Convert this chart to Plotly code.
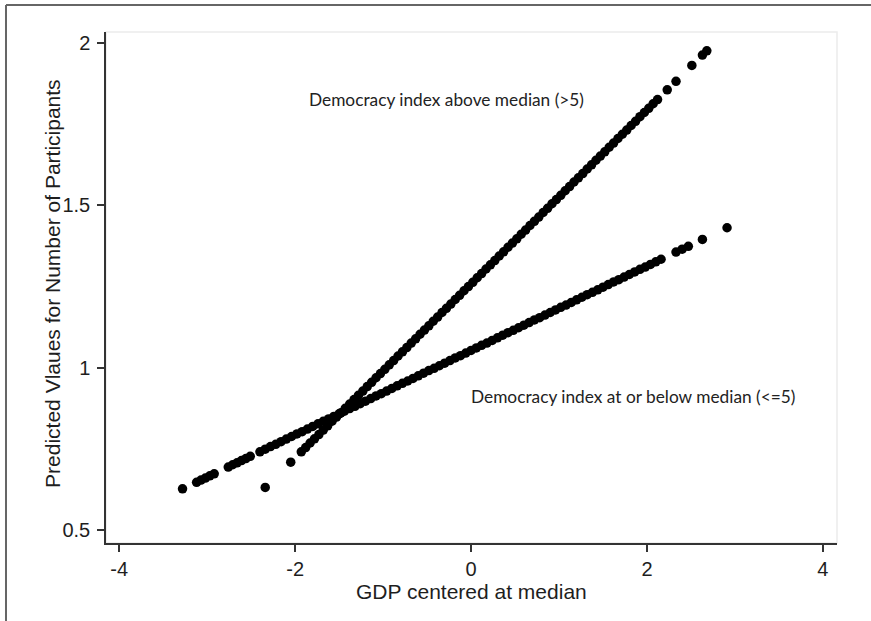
import plotly.graph_objects as go

# ---- Data ----
# Democracy index above median (>5)
above_x = [-2.34, -2.05,
           -1.93, -1.88, -1.83, -1.78, -1.73, -1.68, -1.63, -1.58, -1.53, -1.48,
           -1.43, -1.38, -1.33, -1.28, -1.23, -1.18, -1.13, -1.08, -1.03, -0.98,
           -0.93, -0.88, -0.83, -0.78, -0.73, -0.68, -0.63, -0.58, -0.53, -0.48,
           -0.43, -0.38, -0.33, -0.28, -0.23, -0.18, -0.13, -0.08, -0.03, 0.02,
           0.07, 0.12, 0.17, 0.22, 0.27, 0.32, 0.37, 0.42, 0.47, 0.52,
           0.57, 0.62, 0.67, 0.72, 0.77, 0.82, 0.87, 0.92, 0.97, 1.02,
           1.07, 1.12, 1.17, 1.22, 1.27, 1.32, 1.37, 1.42, 1.47, 1.52,
           1.57, 1.62, 1.67, 1.72, 1.77, 1.82, 1.87, 1.92, 1.97, 2.02,
           2.07, 2.12,
           2.23, 2.33, 2.51, 2.63, 2.68]
above_y = [0.631, 0.709,
           0.741, 0.754, 0.768, 0.781, 0.794, 0.808, 0.821, 0.835, 0.848, 0.861,
           0.875, 0.888, 0.902, 0.915, 0.928, 0.942, 0.955, 0.969, 0.982, 0.995,
           1.009, 1.022, 1.036, 1.049, 1.062, 1.076, 1.089, 1.103, 1.116, 1.129,
           1.143, 1.156, 1.170, 1.183, 1.196, 1.210, 1.223, 1.237, 1.250, 1.263,
           1.277, 1.290, 1.304, 1.317, 1.330, 1.344, 1.357, 1.371, 1.384, 1.397,
           1.411, 1.424, 1.438, 1.451, 1.464, 1.478, 1.491, 1.505, 1.518, 1.531,
           1.545, 1.558, 1.572, 1.585, 1.598, 1.612, 1.625, 1.639, 1.652, 1.665,
           1.679, 1.692, 1.706, 1.719, 1.732, 1.746, 1.759, 1.773, 1.786, 1.799,
           1.813, 1.826,
           1.856, 1.882, 1.931, 1.963, 1.976]

# Democracy index at or below median (<=5)
below_x = [-3.28,
           -3.12, -3.07, -3.02, -2.97, -2.92,
           -2.76, -2.71, -2.66, -2.61, -2.56, -2.51,
           -2.40, -2.34, -2.28, -2.22, -2.16, -2.10, -2.04, -1.98, -1.92, -1.86,
           -1.80, -1.74, -1.68, -1.62, -1.56, -1.50, -1.44, -1.38, -1.32, -1.26,
           -1.20, -1.14, -1.08, -1.02, -0.96, -0.90, -0.84, -0.78, -0.72, -0.66,
           -0.60, -0.54, -0.48, -0.42, -0.36, -0.30, -0.24, -0.18, -0.12, -0.06,
           0.00, 0.06, 0.12, 0.18, 0.24, 0.30, 0.36, 0.42, 0.48, 0.54,
           0.60, 0.66, 0.72, 0.78, 0.84, 0.90, 0.96, 1.02, 1.08, 1.14,
           1.20, 1.26, 1.32, 1.38, 1.44, 1.50, 1.56, 1.62, 1.68, 1.74,
           1.80, 1.86, 1.92, 1.98, 2.04, 2.10, 2.16,
           2.33, 2.40, 2.47, 2.63, 2.91]
below_y = [0.627,
           0.647, 0.654, 0.660, 0.667, 0.673,
           0.694, 0.701, 0.707, 0.714, 0.720, 0.727,
           0.741, 0.749, 0.757, 0.764, 0.772, 0.780, 0.788, 0.796, 0.803, 0.811,
           0.819, 0.827, 0.835, 0.842, 0.850, 0.858, 0.866, 0.874, 0.881, 0.889,
           0.897, 0.905, 0.913, 0.920, 0.928, 0.936, 0.944, 0.952, 0.959, 0.967,
           0.975, 0.983, 0.991, 0.998, 1.006, 1.014, 1.022, 1.030, 1.037, 1.045,
           1.053, 1.061, 1.069, 1.076, 1.084, 1.092, 1.100, 1.108, 1.115, 1.123,
           1.131, 1.139, 1.147, 1.154, 1.162, 1.170, 1.178, 1.186, 1.193, 1.201,
           1.209, 1.217, 1.225, 1.232, 1.240, 1.248, 1.256, 1.264, 1.271, 1.279,
           1.287, 1.295, 1.303, 1.310, 1.318, 1.326, 1.334,
           1.356, 1.365, 1.374, 1.395, 1.431]

x_ticks = [-4, -2, 0, 2, 4]
y_ticks = [0.5, 1, 1.5, 2]
y_tick_text = ["0.5", "1", "1.5", "2"]
x_title = "GDP centered at median"
y_title = "Predicted Vlaues for Number of Participants"
label_above = "Democracy index above median (>5)"
label_below = "Democracy index at or below median (<=5)"

# ---- Figure ----
fig = go.Figure()
for xs, ys in [(below_x, below_y), (above_x, above_y)]:
    fig.add_trace(go.Scatter(
        x=xs, y=ys, mode="markers",
        marker=dict(color="#000000", size=9.5, line=dict(width=0)),
        showlegend=False, hoverinfo="x+y"))

axis_family = "Liberation Sans, Arial, sans-serif"
axis_font = dict(family=axis_family, size=20, color="#1e1e1e")
title_font = dict(family=axis_family, size=21, color="#1e1e1e")
note_font = dict(family="Lato, Calibri, sans-serif", size=17.3, color="#222222")

fig.update_layout(
    width=871, height=621,
    margin=dict(l=106, r=34, t=32, b=78),
    paper_bgcolor="#ffffff", plot_bgcolor="#ffffff",
    showlegend=False,
    xaxis=dict(range=[-4.15, 4.16], tickvals=x_ticks, ticktext=[str(v) for v in x_ticks],
               showgrid=False, zeroline=False, showline=True, linecolor="#333333", linewidth=1.5,
               ticks="outside", ticklen=7, tickwidth=1.5, tickcolor="#333333",
               tickfont=axis_font),
    yaxis=dict(range=[0.46, 2.034], tickvals=y_ticks, ticktext=y_tick_text,
               showgrid=False, zeroline=False, showline=True, linecolor="#333333", linewidth=1.5,
               ticks="outside", ticklen=7, tickwidth=1.5, tickcolor="#333333",
               tickfont=axis_font, ticklabelstandoff=3),
    annotations=[
        # axis titles
        dict(x=0.5, y=-0.095, xref="paper", yref="paper", text=x_title, showarrow=False,
             xanchor="center", yanchor="middle", font=title_font),
        dict(x=-0.0725, y=0.507, xref="paper", yref="paper", text=y_title, showarrow=False,
             textangle=-90, xanchor="center", yanchor="middle", font=title_font),
        # series labels
        dict(x=-1.864, y=1.825, xref="x", yref="y", text=label_above, showarrow=False,
             xanchor="left", yanchor="middle", font=note_font),
        dict(x=-0.023, y=0.911, xref="x", yref="y", text=label_below, showarrow=False,
             xanchor="left", yanchor="middle", font=note_font),
    ],
    shapes=[
        # faint plot-region border
        dict(type="rect", xref="paper", yref="paper", x0=0, y0=0, x1=1, y1=1,
             line=dict(color="#ececec", width=1.5), layer="below"),
        # outer figure frame (top and left edges)
        dict(type="line", xref="paper", yref="paper", x0=-0.1368, y0=1.0528, x1=1.05, y1=1.0528,
             line=dict(color="#666666", width=2)),
        dict(type="line", xref="paper", yref="paper", x0=-0.1368, y0=1.0528, x1=-0.1368, y1=-0.16,
             line=dict(color="#666666", width=2)),
    ],
)

fig.write_html("out.html", config={"displayModeBar": False},
               post_script="document.body.style.margin='0';")
